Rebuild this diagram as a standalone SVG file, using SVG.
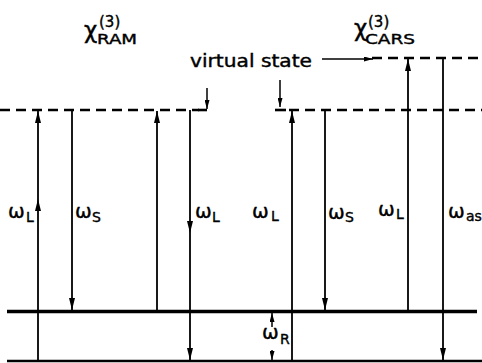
<svg xmlns="http://www.w3.org/2000/svg" width="482" height="363" viewBox="0 0 482 363">
<style>
text{font-family:"DejaVu Sans","Liberation Sans",sans-serif;fill:#000;stroke:#000;stroke-width:0.4}
.w{font-size:20px}
.sub{font-size:14px}
.sup{font-size:15px}
.lev{stroke:#000;fill:none}
.dash{stroke:#000;stroke-width:2.6;stroke-dasharray:10 6;fill:none}
.ar{stroke:#000;stroke-width:1.8;fill:none;marker-end:url(#ah);marker-mid:url(#ah)}
.sm{stroke:#000;stroke-width:1.5;fill:none;marker-end:url(#ahs)}
</style>
<defs>
<marker id="ah" viewBox="0 0 12 6" refX="12" refY="3" markerWidth="12" markerHeight="6" markerUnits="userSpaceOnUse" orient="auto">
<path d="M0,0 L12,3 L0,6 z" fill="#000"/>
</marker>
<marker id="ahs" viewBox="0 0 9 5" refX="9" refY="2.5" markerWidth="9" markerHeight="5" markerUnits="userSpaceOnUse" orient="auto">
<path d="M0,0 L9,2.5 L0,5 z" fill="#000"/>
</marker>
</defs>

<g id="levels">
<line class="dash" x1="0" y1="110" x2="199" y2="110"/>
<line class="lev" stroke-width="2.6" x1="198" y1="110" x2="207" y2="110"/>
<line class="dash" x1="289" y1="110" x2="482" y2="110"/>
<line class="lev" stroke-width="2.6" x1="275" y1="110" x2="286" y2="110"/>
<line class="dash" x1="372" y1="58" x2="482" y2="58"/>
<line class="lev" stroke-width="3.5" x1="7" y1="311.5" x2="477" y2="311.5"/>
<line class="lev" stroke-width="2.5" x1="7" y1="361" x2="482" y2="361"/>
</g>

<g id="connectors">
<path class="ar" d="M38,361 L38,199 L38,111"/>
<path class="ar" d="M72,110 L72,310"/>
<path class="ar" d="M157,311 L157,111"/>
<path class="ar" d="M190,110 L190,233 L190,360"/>
<path class="ar" d="M292,361 L292,111"/>
<path class="ar" d="M325,110 L325,310"/>
<path class="ar" d="M408,311 L408,59"/>
<path class="ar" d="M443,58 L443,360"/>
<path class="sm" d="M207,88 L207,109"/>
<path class="sm" d="M280,80 L280,107"/>
<path class="sm" d="M322,59 L373,59"/>
<path class="sm" d="M272,327 L272,313"/>
<path class="sm" d="M272,350 L272,360"/>
</g>

<g id="title-ram">
<text x="84" y="38" font-size="23">χ</text>
<text x="99" y="27" class="sup">(3)</text>
<text x="97" y="44" class="sub" textLength="40" lengthAdjust="spacingAndGlyphs">RAM</text>
</g>
<g id="title-cars">
<text x="354" y="36" font-size="23">χ</text>
<text x="368" y="27" class="sup">(3)</text>
<text x="365" y="44" class="sub" textLength="50" lengthAdjust="spacingAndGlyphs">CARS</text>
</g>
<g id="virtual-state">
<text x="190" y="67" font-size="17" textLength="122" lengthAdjust="spacingAndGlyphs">virtual state</text>
</g>

<g id="labels">
<text x="8" y="218" class="w">ω</text><text x="26" y="222" class="sub">L</text>
<text x="75" y="218" class="w">ω</text><text x="92" y="222" class="sub">S</text>
<text x="195" y="218" class="w">ω</text><text x="212" y="222" class="sub">L</text>
<text x="252" y="218" class="w">ω</text><text x="271" y="221" class="sub">L</text>
<text x="328" y="219" class="w">ω</text><text x="345" y="222" class="sub">S</text>
<text x="378" y="216" class="w">ω</text><text x="396" y="219" class="sub">L</text>
<text x="448" y="218" class="w">ω</text><text x="466" y="221" class="sub">as</text>
<text x="262" y="339" class="w">ω</text><text x="280" y="344" class="sub">R</text>
</g>
</svg>
